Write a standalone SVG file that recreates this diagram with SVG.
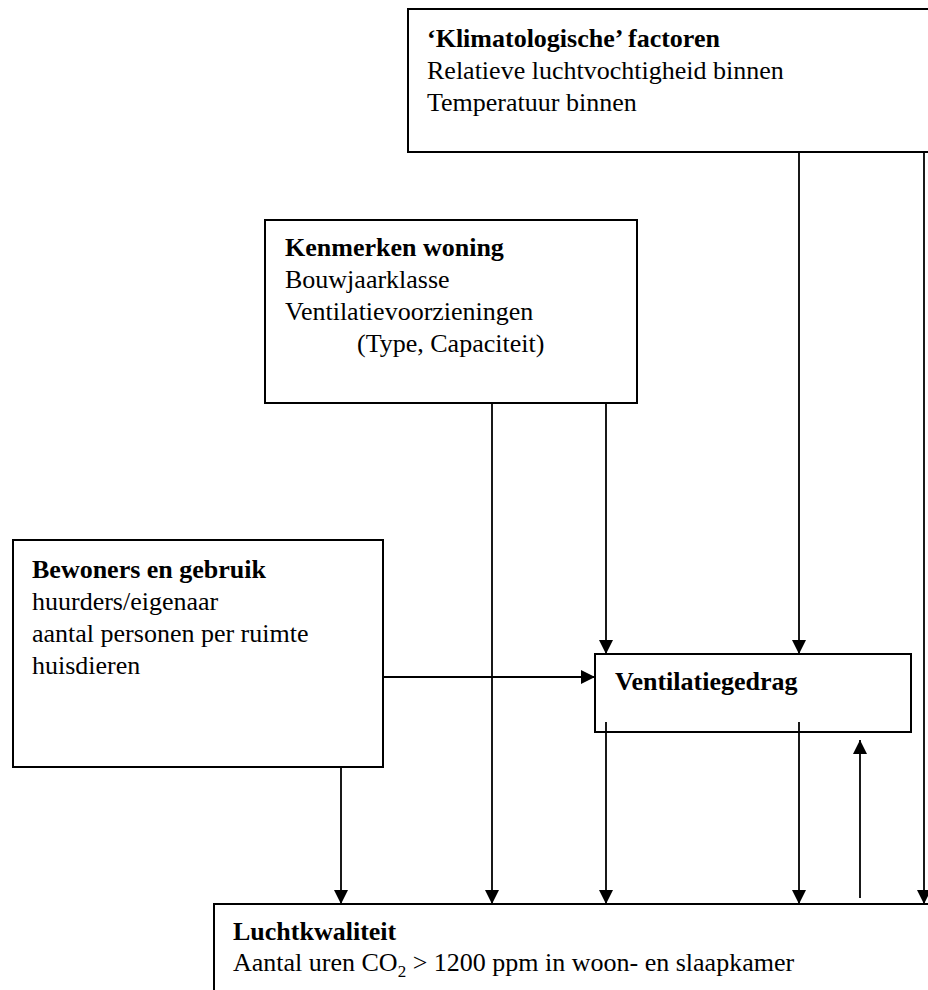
<svg xmlns="http://www.w3.org/2000/svg" width="928" height="990" viewBox="0 0 928 990">
<defs>
<marker id="ah" viewBox="0 0 14 14" refX="14" refY="7" markerWidth="14" markerHeight="14" markerUnits="userSpaceOnUse" orient="auto">
<path d="M0,0 L14,7 L0,14 Z" fill="#000"/>
</marker>
<style>
.box{fill:#fff;stroke:#000;stroke-width:2}
.t{font-family:"Liberation Serif","Times New Roman",serif;font-size:26px;fill:#000}
.b{font-weight:bold}
.c{stroke:#000;stroke-width:1.8;fill:none}
.a{marker-end:url(#ah)}
</style>
</defs>
<rect width="928" height="990" fill="#fff"/>
<g id="klimaat">
<rect class="box" x="408" y="9" width="530" height="143"/>
<text class="t b" x="427" y="47">‘Klimatologische’ factoren</text>
<text class="t" x="427" y="79">Relatieve luchtvochtigheid binnen</text>
<text class="t" x="427" y="111">Temperatuur binnen</text>
</g>
<g id="kenmerken">
<rect class="box" x="265" y="220" width="372" height="183"/>
<text class="t b" x="285" y="256">Kenmerken woning</text>
<text class="t" x="285" y="288">Bouwjaarklasse</text>
<text class="t" x="285" y="320">Ventilatievoorzieningen</text>
<text class="t" x="357" y="352">(Type, Capaciteit)</text>
</g>
<g id="bewoners">
<rect class="box" x="13" y="540" width="370" height="227"/>
<text class="t b" x="32" y="578">Bewoners en gebruik</text>
<text class="t" x="32" y="610">huurders/eigenaar</text>
<text class="t" x="32" y="642">aantal personen per ruimte</text>
<text class="t" x="32" y="674">huisdieren</text>
</g>
<g id="ventilatiegedrag">
<rect class="box" x="595" y="654" width="316" height="78"/>
<text class="t b" x="615" y="690">Ventilatiegedrag</text>
</g>
<g id="luchtkwaliteit">
<rect class="box" x="214" y="904" width="730" height="100"/>
<text class="t b" x="233" y="940">Luchtkwaliteit</text>
<text class="t" x="233" y="971">Aantal uren CO<tspan font-size="17" dy="6">2</tspan><tspan dy="-6"> &gt; 1200 ppm in woon- en slaapkamer</tspan></text>
</g>
<g id="connectors">
<line class="c a" x1="383" y1="677" x2="595" y2="677"/>
<line class="c a" x1="606" y1="403" x2="606" y2="654"/>
<line class="c a" x1="799" y1="152" x2="799" y2="654"/>
<line class="c a" x1="341" y1="767" x2="341" y2="904"/>
<line class="c a" x1="492" y1="403" x2="492" y2="904"/>
<line class="c a" x1="606" y1="722" x2="606" y2="904"/>
<line class="c a" x1="799" y1="722" x2="799" y2="904"/>
<line class="c a" x1="924" y1="152" x2="924" y2="904"/>
<line class="c a" x1="860" y1="898" x2="860" y2="740"/>
</g>
</svg>
